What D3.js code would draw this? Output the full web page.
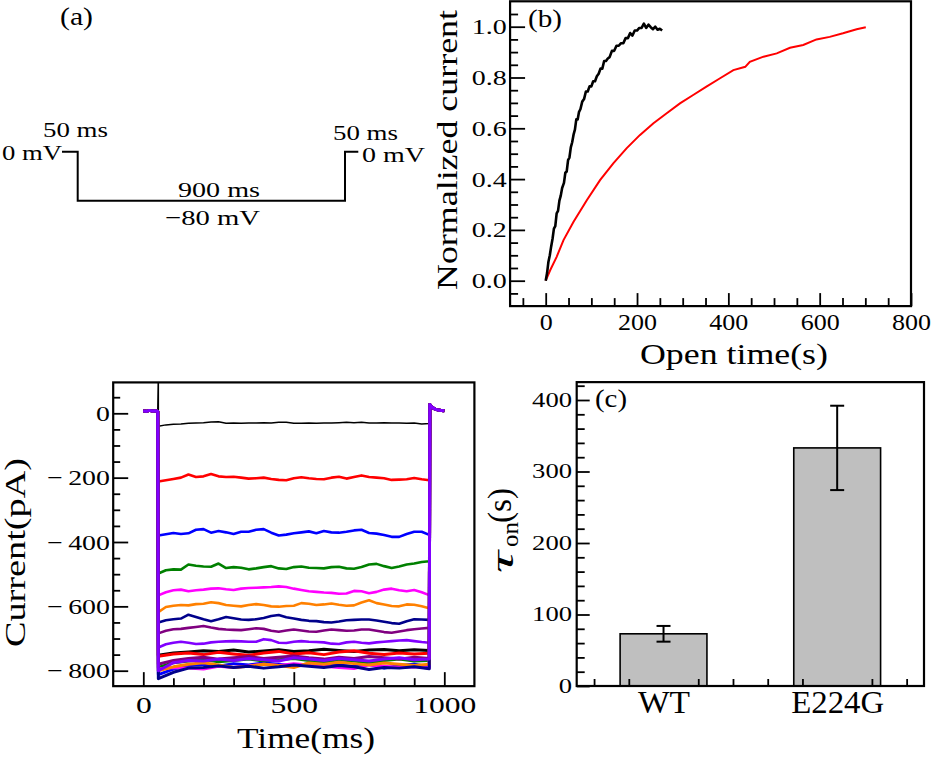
<!DOCTYPE html>
<html><head><meta charset="utf-8">
<script src="https://cdn.jsdelivr.net/npm/d3@7"></script>
<style>
body{margin:0;background:#fff;}
svg{display:block;}
text{font-family:"Liberation Serif","Times New Roman",serif;fill:#000;}
</style>
</head><body>
<svg id="chart" width="934" height="763" font-family="Liberation Serif"></svg>
<script>
// ---------------- DATA ----------------
// (a) voltage protocol
const pulseTime = [0, 50, 50, 950, 950, 1000];
const pulseVolt = [0, 0, -80, -80, 0, 0];

// (b) normalized current vs open time
const wtOpenTime = [0,3,6,9,12,15,18,21,24,27,30,33,36,40,43,46,49,52,55,58,61,64,67,70,73,76,80,84,88,92,96,100,104,108,112,116,120,124,128,132,136,140,145,150,155,160,165,170,175,180,185,190,195,200,205,210,215,220,225,230,235,240,245,250,255];
const wtOpenCurrent = [0,0.03,0.075,0.10,0.135,0.165,0.205,0.215,0.265,0.275,0.315,0.335,0.365,0.385,0.425,0.43,0.475,0.485,0.525,0.545,0.575,0.595,0.635,0.635,0.665,0.675,0.705,0.715,0.745,0.745,0.765,0.765,0.785,0.785,0.805,0.815,0.835,0.835,0.865,0.865,0.875,0.88,0.905,0.905,0.925,0.925,0.935,0.935,0.955,0.955,0.975,0.965,0.985,0.985,0.995,0.995,1.012,0.995,1.008,0.998,0.99,1.0,0.988,0.992,0.985];
const mutOpenTime = [0,10,24,39,61,90,119,148,177,206,236,265,294,323,352,381,411,437,447,477,506,535,564,593,622,651,681,701];
const mutOpenCurrent = [0,0.042,0.094,0.16,0.232,0.317,0.396,0.462,0.521,0.573,0.62,0.659,0.698,0.731,0.764,0.796,0.829,0.842,0.862,0.882,0.895,0.917,0.928,0.95,0.96,0.974,0.99,0.998];

// (c) time constants
const tauCategories = ["WT", "E224G"];
const tauValues = [73, 333];
const tauErrors = [11, 59];

// current traces (pA) vs time (ms)
const preTime = [0, 10, 20, 30, 40, 48];
const preCurrent = [8, 6, 9, 7, 8, 6];
const postTime = [952, 956, 962, 970, 980, 990, 1000];
const postCurrent = [27, 22, 17, 13, 10, 9, 8];
const capSpike = 120;
const traceTime = [50,75,100,125,150,175,200,225,250,275,300,325,350,375,400,425,450,475,500,525,550,575,600,625,650,675,700,725,750,775,800,825,850,875,900,925,950];
const traceBlack = [-40,-36,-34,-33,-31,-30,-29,-27,-26,-31,-30,-31,-30,-30,-29,-30,-28,-28,-31,-31,-30,-31,-30,-30,-29,-28,-29,-28,-30,-30,-29,-30,-30,-31,-30,-33,-32];
const traceRed = [-212,-208,-204,-200,-190,-198,-196,-189,-196,-198,-197,-200,-203,-202,-200,-204,-207,-208,-202,-199,-202,-204,-205,-200,-197,-203,-198,-193,-198,-200,-202,-207,-206,-205,-201,-205,-208];
const traceBlue = [-380,-376,-372,-375,-373,-362,-360,-371,-366,-370,-375,-368,-368,-362,-360,-371,-380,-377,-373,-370,-367,-373,-366,-370,-371,-368,-364,-362,-372,-374,-378,-384,-384,-375,-368,-368,-378];
const traceGreen = [-498,-488,-485,-486,-470,-474,-476,-477,-467,-481,-478,-480,-485,-482,-478,-475,-482,-484,-478,-476,-480,-481,-482,-478,-477,-482,-483,-478,-470,-468,-475,-481,-476,-470,-467,-462,-460];
const traceMagenta = [-566,-556,-550,-548,-553,-550,-548,-545,-544,-547,-549,-545,-543,-542,-541,-540,-538,-540,-545,-549,-553,-555,-557,-558,-561,-560,-552,-553,-559,-555,-548,-545,-550,-553,-549,-556,-565];
const traceOrange = [-618,-602,-598,-596,-597,-593,-592,-587,-590,-596,-598,-600,-596,-593,-596,-600,-601,-599,-598,-590,-592,-596,-594,-591,-595,-598,-597,-588,-581,-590,-594,-599,-600,-594,-595,-600,-606];
const traceNavy = [-650,-643,-640,-638,-626,-633,-640,-646,-640,-633,-637,-641,-642,-640,-636,-630,-627,-634,-638,-642,-645,-646,-649,-650,-647,-643,-642,-641,-641,-644,-648,-652,-654,-646,-640,-641,-642];
const tracePurple = [-684,-676,-671,-670,-667,-664,-661,-666,-670,-672,-673,-674,-671,-668,-670,-676,-679,-675,-672,-675,-678,-679,-675,-672,-674,-676,-675,-672,-672,-676,-680,-682,-678,-674,-671,-669,-667];
const traceViolet = [-728,-718,-713,-710,-713,-717,-716,-712,-710,-709,-708,-709,-710,-710,-702,-705,-713,-714,-710,-708,-710,-711,-712,-716,-717,-712,-710,-713,-715,-712,-710,-708,-706,-705,-708,-711,-713];
const clusterTime = [50,100,150,200,250,300,350,400,450,500,550,600,650,700,750,800,850,900,950];
const clusterBlack = [-752,-745,-742,-738,-740,-736,-742,-739,-735,-740,-738,-733,-737,-740,-736,-734,-738,-735,-737];
const clusterRed = [-755,-748,-745,-750,-743,-748,-752,-745,-740,-748,-744,-750,-742,-738,-746,-750,-745,-748,-746];
const clusterBlue = [-812,-795,-785,-780,-786,-778,-782,-776,-780,-785,-778,-774,-782,-788,-780,-792,-784,-780,-788];
const clusterGreen = [-790,-775,-770,-765,-772,-768,-764,-770,-766,-762,-768,-772,-766,-770,-775,-768,-764,-770,-768];
const clusterMagenta = [-795,-790,-792,-795,-786,-790,-785,-780,-784,-778,-782,-786,-790,-793,-782,-786,-790,-788,-792];
const clusterOrange = [-800,-788,-780,-775,-782,-790,-786,-780,-784,-790,-776,-780,-774,-778,-782,-776,-780,-784,-780];
const clusterNavy = [-825,-805,-792,-790,-785,-790,-786,-792,-788,-782,-786,-790,-784,-788,-796,-790,-792,-788,-794];
const clusterPurple = [-780,-768,-762,-758,-764,-760,-756,-762,-758,-754,-760,-764,-758,-762,-756,-760,-764,-758,-762];
const clusterViolet = [-800,-775,-768,-770,-764,-768,-762,-766,-770,-760,-764,-768,-762,-766,-770,-764,-760,-766,-764];
const traceColors = ["#000000","#ff0000","#0000ff","#008000","#ff00ff","#ff8000","#00008b","#800080","#8000ff"];

// tick labels
const bXTicks = [0, 200, 400, 600, 800];
const bYTicks = [0, 0.2, 0.4, 0.6, 0.8, 1.0];
const dXTicks = [0, 500, 1000];
const dYTicks = [-800, -600, -400, -200, 0];
const cYTicks = [0, 100, 200, 300, 400];

// ---------------- DRAW ----------------
const svg = d3.select("#chart");
const FONT = "Liberation Serif";
const FRAME_W = 2.2, TICK_W = 1.8;

// width of a LaTeX-like numeric label, from its glyphs
function numWidth(s, dw, pw, mw) {
  let w = 0;
  for (const ch of s) {
    if (ch >= "0" && ch <= "9") w += dw;
    else if (ch === ".") w += pw;
    else if (ch === "\u2212") w += mw;
  }
  return w;
}
function fit(sel, widthFn) {
  sel.each(function () {
    const t = d3.select(this);
    t.attr("textLength", widthFn(t.text())).attr("lengthAdjust", "spacingAndGlyphs");
  });
}
function label(x, y, txt, size, len, anchor, rot) {
  const t = svg.append("text")
    .attr("transform", `translate(${x},${y})` + (rot ? ` rotate(${rot})` : ""))
    .attr("text-anchor", anchor || "start")
    .attr("font-family", FONT)
    .style("font-size", size + "px")
    .text(txt);
  if (len) t.attr("textLength", len).attr("lengthAdjust", "spacingAndGlyphs");
  return t;
}
function frame(x0, x1, y0, y1) {
  svg.append("rect").attr("x", x0).attr("y", y0).attr("width", x1 - x0).attr("height", y1 - y0)
    .attr("fill", "none").attr("stroke", "#000").attr("stroke-width", FRAME_W);
}
function styleAxis(g, size, widthFn) {
  g.attr("font-family", FONT);
  g.select(".domain").remove();
  g.selectAll("line").attr("stroke-width", TICK_W);
  g.selectAll("text").attr("font-family", FONT).style("font-size", size + "px");
  if (widthFn) fit(g.selectAll("text"), widthFn);
}
const minus = d => d < 0 ? "\u2212\u2009" + Math.abs(d) : String(d);

// ===== (a) protocol =====
const xA = d3.scaleLinear().domain([0, 50, 950, 1000]).range([62, 77.7, 345, 358.3]);
const yA = d3.scaleLinear().domain([-80, 0]).range([200.7, 151.7]);
svg.append("path")
  .attr("d", d3.line().x(i => xA(pulseTime[i])).y(i => yA(pulseVolt[i]))(d3.range(pulseTime.length)))
  .attr("fill", "none").attr("stroke", "#000").attr("stroke-width", 2);
label(60, 25, "(a)", 26, 33);
label(43, 137, "50 ms", 22, 65);
label(2, 160, "0 mV", 22, 60);
label(333, 140, "50 ms", 22, 65);
label(362, 162, "0 mV", 22, 63);
label(178, 197, "900 ms", 22, 82);
label(165, 225, "\u221280 mV", 22, 95);

// ===== (b) normalized current =====
const xB = d3.scaleLinear().domain([0, 800]).range([545.7, 911]);
const yB = d3.scaleLinear().domain([0, 1]).range([280.7, 26.7]);
const bL = xB(-78), bR = xB(800), bT = yB(1.1), bBot = yB(-0.1);
svg.append("clipPath").attr("id", "clipB").append("rect")
  .attr("x", bL).attr("y", bT).attr("width", bR - bL).attr("height", bBot - bT);
const gB = svg.append("g").attr("clip-path", "url(#clipB)");
gB.append("path")
  .attr("d", d3.line().x(i => xB(mutOpenTime[i])).y(i => yB(mutOpenCurrent[i]))(d3.range(mutOpenTime.length)))
  .attr("fill", "none").attr("stroke", "#ff0000").attr("stroke-width", 2);
gB.append("path")
  .attr("d", d3.line().x(i => xB(wtOpenTime[i])).y(i => yB(wtOpenCurrent[i]))(d3.range(wtOpenTime.length)))
  .attr("fill", "none").attr("stroke", "#000").attr("stroke-width", 2.6).attr("stroke-linejoin", "round");

svg.append("g").attr("transform", `translate(0,${bBot})`)
  .call(d3.axisBottom(xB).tickValues(d3.range(-50, 800, 50).filter(v => v % 200 !== 0)).tickSize(-8).tickFormat(""))
  .call(g => styleAxis(g, 10));
svg.append("g").attr("transform", `translate(0,${bBot})`)
  .call(d3.axisBottom(xB).tickValues(bXTicks).tickSize(-13).tickPadding(7).tickFormat(d3.format("d")))
  .call(g => styleAxis(g, 24, s => numWidth(s, 13, 8, 18)));
svg.append("g").attr("transform", `translate(${bL},0)`)
  .call(d3.axisLeft(yB).tickValues(d3.range(-0.05, 1.1, 0.05).filter(v => Math.abs(v * 5 - Math.round(v * 5)) > 0.01)).tickSize(-8).tickFormat(""))
  .call(g => styleAxis(g, 10));
svg.append("g").attr("transform", `translate(${bL},0)`)
  .call(d3.axisLeft(yB).tickValues(bYTicks).tickSize(-15).tickPadding(3.4).tickFormat(d3.format(".1f")))
  .call(g => styleAxis(g, 22, s => numWidth(s, 13.3, 8.4, 18)));
frame(bL, bR, bT, bBot);
label(528, 27, "(b)", 26, 34);
label(734, 364, "Open time(s)", 29, 188, "middle");
label(457, 150, "Normalized current", 30, 280, "middle", -90);

// ===== (d) current traces =====
const xD = d3.scaleLinear().domain([0, 1000]).range([143.3, 444.3]);
const yD = d3.scaleLinear().domain([-800, 0]).range([670.7, 413.3]);
const dL = xD(-100), dR = xD(1100), dT = yD(96), dBot = yD(-848);
svg.append("clipPath").attr("id", "clipD").append("rect")
  .attr("x", dL).attr("y", dT).attr("width", dR - dL).attr("height", dBot - dT);
const gD = svg.append("g").attr("clip-path", "url(#clipD)");
const mainTraces = [traceBlack, traceRed, traceBlue, traceGreen, traceMagenta, traceOrange, traceNavy, tracePurple, traceViolet];
const clusterTraces = [clusterBlack, clusterRed, clusterBlue, clusterGreen, clusterMagenta, clusterOrange, clusterNavy, clusterPurple, clusterViolet];
function tracePoints(times, values, spike) {
  const pts = preTime.map((t, i) => [t, preCurrent[i]]);
  if (spike) pts.push([50, capSpike]);
  times.forEach((t, i) => pts.push([t, values[i]]));
  postTime.forEach((t, i) => pts.push([t, postCurrent[i]]));
  return pts;
}
const lineD = d3.line().x(d => xD(d[0])).y(d => yD(d[1]));
mainTraces.forEach((vals, i) => {
  gD.append("path").attr("d", lineD(tracePoints(traceTime, vals, i === 0)))
    .attr("fill", "none").attr("stroke", traceColors[i]).attr("stroke-width", i === 0 ? 1.5 : 2.6)
    .attr("stroke-linejoin", "round");
});
clusterTraces.forEach((vals, i) => {
  gD.append("path").attr("d", lineD(tracePoints(clusterTime, vals, false)))
    .attr("fill", "none").attr("stroke", traceColors[i]).attr("stroke-width", 3)
    .attr("stroke-linejoin", "round");
});
svg.append("g").attr("transform", `translate(0,${dBot})`)
  .call(d3.axisBottom(xD).tickValues([100, 200, 300, 400, 600, 700, 800, 900]).tickSize(-8).tickFormat(""))
  .call(g => styleAxis(g, 10));
svg.append("g").attr("transform", `translate(0,${dBot})`)
  .call(d3.axisBottom(xD).tickValues(dXTicks).tickSize(-14).tickPadding(10.7).tickFormat(d3.format("d")))
  .call(g => styleAxis(g, 23, s => numWidth(s, 15.8, 8, 18)));
svg.append("g").attr("transform", `translate(${dL},0)`)
  .call(d3.axisLeft(yD).tickValues(d3.range(-750, 100, 50).filter(v => v % 200 !== 0)).tickSize(-7).tickFormat(""))
  .call(g => styleAxis(g, 10));
svg.append("g").attr("transform", `translate(${dL},0)`)
  .call(d3.axisLeft(yD).tickValues(dYTicks).tickSize(-15).tickPadding(3.3).tickFormat(minus))
  .call(g => styleAxis(g, 22, s => numWidth(s, 13.9, 8, 21.3)));
frame(dL, dR, dT, dBot);
label(306, 748, "Time(ms)", 29, 138, "middle");
label(24.5, 552.5, "Current(pA)", 29, 189, "middle", -90);

// ===== (c) tau bars =====
const xC = d3.scaleLinear().domain([0.5, 2.5]).range([576.7, 924]);
const yC = d3.scaleLinear().domain([0, 400]).range([686, 400]);
const cL = xC(0.5), cR = xC(2.5), cT = yC(425), cBot = yC(0);
const catPos = tauCategories.map((c, i) => i + 1);
svg.append("g").selectAll("rect").data(tauValues).join("rect")
  .attr("x", (d, i) => xC(catPos[i] - 0.25))
  .attr("width", xC(1.25) - xC(0.75))
  .attr("y", d => yC(d))
  .attr("height", d => yC(0) - yC(d))
  .attr("fill", "#bfbfbf").attr("stroke", "#000").attr("stroke-width", 1.6);
const eb = svg.append("g").attr("stroke", "#000").attr("stroke-width", 2);
tauValues.forEach((v, i) => {
  const cx = xC(catPos[i]);
  eb.append("line").attr("x1", cx).attr("x2", cx).attr("y1", yC(v - tauErrors[i])).attr("y2", yC(v + tauErrors[i]));
  eb.append("line").attr("x1", cx - 7).attr("x2", cx + 7).attr("y1", yC(v - tauErrors[i])).attr("y2", yC(v - tauErrors[i]));
  eb.append("line").attr("x1", cx - 7).attr("x2", cx + 7).attr("y1", yC(v + tauErrors[i])).attr("y2", yC(v + tauErrors[i]));
});
const catWidths = [52, 93];
svg.append("g").attr("transform", `translate(0,${cBot})`)
  .call(d3.axisBottom(xC).tickValues([0.6, 0.8, 1.2, 1.4, 1.6, 1.8, 2.2, 2.4]).tickSize(-7).tickFormat(""))
  .call(g => styleAxis(g, 10));
svg.append("g").attr("transform", `translate(0,${cBot})`)
  .call(d3.axisBottom(xC).tickValues(catPos).tickSize(0).tickPadding(5).tickFormat((d, i) => tauCategories[i]))
  .call(g => styleAxis(g, 31, s => catWidths[tauCategories.indexOf(s)]));
svg.append("g").attr("transform", `translate(${cL},0)`)
  .call(d3.axisLeft(yC).tickValues(d3.range(20, 425, 20).filter(v => v % 100 !== 0)).tickSize(-8).tickFormat(""))
  .call(g => styleAxis(g, 10));
svg.append("g").attr("transform", `translate(${cL},0)`)
  .call(d3.axisLeft(yC).tickValues(cYTicks).tickSize(-13).tickPadding(4.7).tickFormat(d3.format("d")))
  .call(g => styleAxis(g, 20, s => numWidth(s, 13.3, 8, 18)));
frame(cL, cR, cT, cBot);
label(595, 407, "(c)", 26, 32);
label(513, 573, "\u03c4", 31, 22, "start", -90).style("font-style", "italic");
label(518, 547, "on", 23, 25, "start", -90);
label(511, 523, "(s)", 33, 35, "start", -90);
</script>
</body></html>
